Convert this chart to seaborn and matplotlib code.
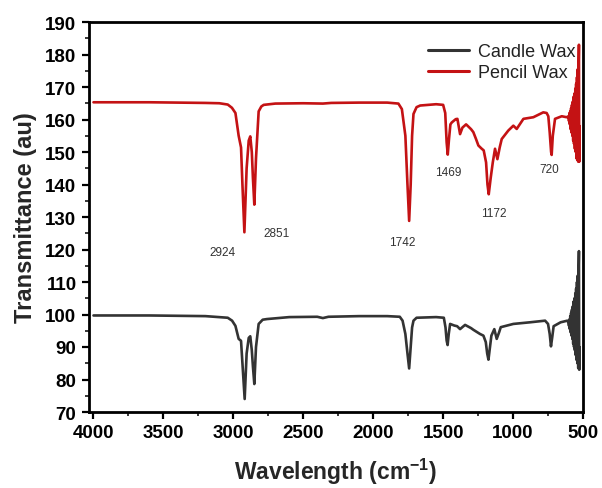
import numpy as np
import pandas as pd
import matplotlib
matplotlib.use('Agg')
import matplotlib.pyplot as plt
import seaborn as sns
from matplotlib.ticker import MultipleLocator

# ---------------- data ----------------
series_names = ["Candle Wax", "Pencil Wax"]
series_colors = ["#333333", "#C41214"]

pencil_w = [4000, 3800, 3600, 3400, 3200, 3100, 3040, 3010, 2985, 2962, 2945, 2935, 2921, 2905,
            2890, 2879, 2868, 2860, 2850, 2838, 2819, 2800, 2783, 2700, 2500, 2360, 2300, 2100,
            1900, 1820, 1795, 1770, 1755, 1743, 1732, 1722, 1712, 1690, 1664, 1550, 1500, 1485,
            1475, 1467, 1458, 1448, 1438, 1410, 1398, 1379, 1362, 1336, 1326, 1300, 1284, 1265,
            1248, 1224, 1210, 1193, 1183, 1174, 1160, 1145, 1129, 1112, 1095, 1081, 1034, 998,
            974, 926, 855, 784, 760, 748, 738, 728, 724, 716, 700, 652, 617,
            604, 600, 597, 594, 591, 588, 585, 582, 579, 576, 573, 570, 567, 564, 561, 558,
            555, 552, 549, 546, 543, 540, 537, 534, 531, 529, 527, 525]
pencil_t = [165.3, 165.3, 165.3, 165.2, 165.1, 165.0, 164.6, 163.6, 162.0, 155.0, 151.4, 140.0, 125.3, 145.0,
            153.5, 154.8, 150.0, 142.0, 133.8, 148.0, 162.5, 164.0, 164.5, 164.9, 165.0, 164.9, 165.1, 165.2,
            165.2, 164.9, 163.2, 155.0, 140.0, 128.8, 140.0, 155.0, 161.7, 163.8, 164.3, 164.7, 164.5, 162.0,
            153.0, 149.2, 154.0, 158.5, 159.1, 160.1, 160.2, 155.5, 157.5, 158.5, 158.1, 157.0, 156.1, 154.0,
            152.0, 151.0, 150.5, 146.8, 140.0, 137.0, 142.0, 146.8, 151.0, 147.8, 151.5, 154.0, 156.6, 158.1,
            157.1, 160.2, 160.7, 162.2, 162.0, 161.0, 156.0, 150.0, 149.1, 155.0, 160.2, 161.0, 160.7,
            161.0, 159.5, 162.0, 158.5, 162.5, 157.0, 163.5, 156.0, 164.5, 155.0, 165.5, 153.5, 167.0, 152.5, 168.0, 151.0,
            169.5, 150.0, 171.0, 148.0, 173.0, 147.5, 175.5, 147.0, 178.0, 183.0, 147.0, 158.0]

candle_w = [4000, 3600, 3200, 3040, 3009, 2985, 2962, 2945, 2935, 2919, 2905, 2890, 2879, 2868,
            2860, 2850, 2838, 2819, 2790, 2759, 2600, 2400, 2360, 2320, 2100, 1900, 1810, 1790,
            1770, 1755, 1743, 1732, 1722, 1712, 1690, 1550, 1495, 1483, 1475, 1468, 1460, 1450,
            1420, 1400, 1379, 1360, 1343, 1300, 1284, 1236, 1212, 1195, 1185, 1176, 1165, 1155,
            1134, 1117, 1100, 1088, 998, 879, 771, 750, 738, 729, 720, 710, 660, 612,
            604, 600, 597, 594, 591, 588, 585, 582, 579, 576, 573, 570, 567, 564, 561, 558,
            555, 552, 549, 546, 543, 540, 537, 534, 531, 529, 527, 525]
candle_t = [99.7, 99.7, 99.5, 99.0, 98.1, 96.5, 92.5, 91.9, 85.0, 74.0, 88.0, 92.8, 93.3, 89.0,
            84.0, 78.6, 90.0, 97.1, 98.4, 98.6, 99.2, 99.3, 98.9, 99.3, 99.5, 99.5, 99.3, 98.1,
            94.0, 88.0, 83.4, 90.0, 96.0, 98.1, 99.0, 99.2, 99.0, 96.0, 92.0, 90.6, 94.0, 97.1,
            96.6, 96.4, 95.5, 96.2, 96.8, 95.8, 95.3, 94.0, 93.5, 91.5, 88.0, 86.1, 90.0, 93.5,
            95.5, 92.5, 94.5, 96.1, 97.1, 97.6, 98.1, 97.1, 94.0, 90.2, 93.0, 96.4, 97.6, 98.1,
            97.5, 96.5, 98.5, 95.5, 99.5, 94.5, 100.5, 93.5, 101.5, 92.5, 102.5, 91.0, 104.0, 90.0, 105.0, 89.0,
            106.5, 87.5, 108.0, 86.0, 110.0, 85.0, 112.0, 83.5, 115.0, 119.5, 83.0, 90.0]

peak_labels = ["2924", "2851", "1742", "1469", "1172", "720"]
peak_label_x = [3081, 2688, 1795, 1467, 1136, 741]
peak_label_y = [119.3, 125.0, 122.4, 143.8, 131.2, 144.8]

x_ticks = [4000, 3500, 3000, 2500, 2000, 1500, 1000, 500]
y_ticks = [70, 80, 90, 100, 110, 120, 130, 140, 150, 160, 170, 180, 190]

# ---------------- figure ----------------
sns.set_theme(style='ticks')
plt.rcParams['font.family'] = ['Liberation Sans', 'DejaVu Sans']
plt.rcParams['mathtext.fontset'] = 'custom'
plt.rcParams['mathtext.rm'] = 'Liberation Sans'
plt.rcParams['mathtext.bf'] = 'Liberation Sans:bold'

df = pd.concat([
    pd.DataFrame({'w': candle_w, 't': candle_t, 's': series_names[0]}),
    pd.DataFrame({'w': pencil_w, 't': pencil_t, 's': series_names[1]}),
], ignore_index=True)

fig = plt.figure(figsize=(6.02, 4.89), dpi=100)
ax = fig.add_axes([89 / 602, 1 - 413 / 489, (583 - 89) / 602, (413 - 23) / 489])

sns.lineplot(data=df, x='w', y='t', hue='s', hue_order=series_names,
             palette=dict(zip(series_names, series_colors)), estimator=None,
             sort=True, linewidth=1.9, ax=ax, solid_joinstyle='round')

ax.set_xlim(4032, 500)
ax.set_ylim(70, 190)
ax.set_xticks(x_ticks)
ax.set_yticks(y_ticks)
ax.xaxis.set_minor_locator(MultipleLocator(250))
ax.yaxis.set_minor_locator(MultipleLocator(5))
ax.tick_params(which='major', direction='out', length=5, width=1.6, labelsize=13.5, pad=4,
               colors='black')
ax.tick_params(which='minor', direction='out', length=3, width=1.3)
for lab in ax.get_xticklabels() + ax.get_yticklabels():
    lab.set_fontweight('bold')
for sp in ax.spines.values():
    sp.set_linewidth(2.0)
    sp.set_color('black')
    sp.set_visible(True)

ax.set_xlabel(r'Wavelength (cm$^{\mathbf{-1}}$)', fontsize=16.5, fontweight='bold', labelpad=10)
ax.set_ylabel('Transmittance (au)', fontsize=17, fontweight='bold', labelpad=6)

for lab, lx, ly in zip(peak_labels, peak_label_x, peak_label_y):
    ax.text(lx, ly, lab, fontsize=8.5, color='#333333', ha='center', va='center')

leg = ax.legend(title=None, frameon=False, loc='upper right', bbox_to_anchor=(1.0, 0.965),
                fontsize=13, handlelength=2.3, labelspacing=0.25, borderaxespad=0,
                handletextpad=0.5)
for t in leg.get_texts():
    t.set_color('#222222')
for l in leg.get_lines():
    l.set_linewidth(2.2)

fig.savefig('out.png', dpi=100)
